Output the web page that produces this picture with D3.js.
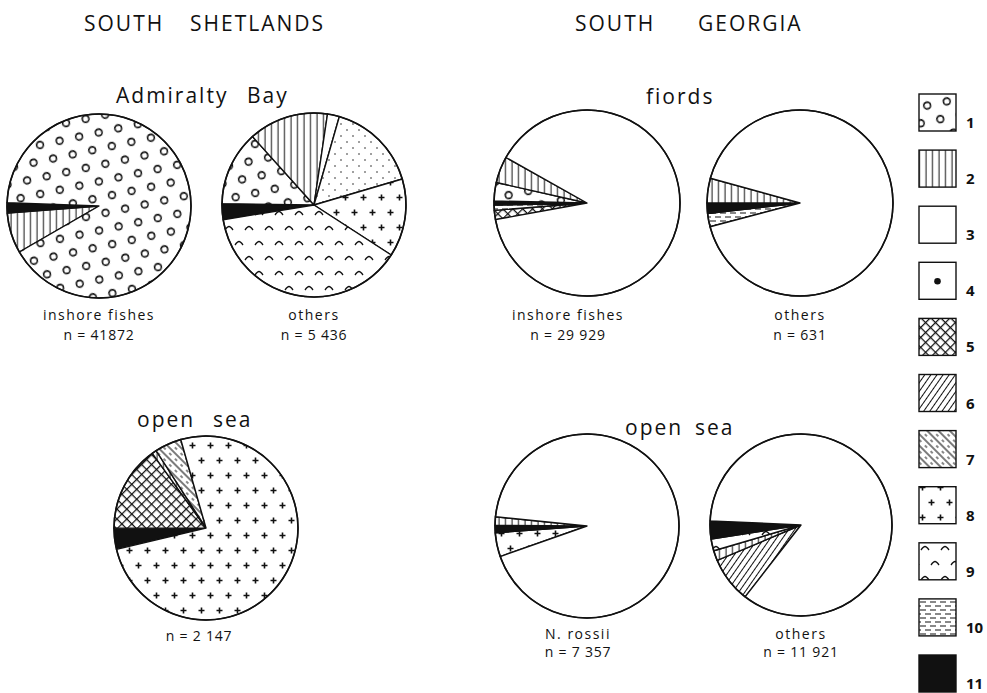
<!DOCTYPE html>
<html>
<head>
<meta charset="utf-8">
<script src="https://cdn.jsdelivr.net/npm/d3@7"></script>
<style>
  html, body { margin: 0; padding: 0; background: #fff; }
  svg { display: block; }
  text { font-family: "Open Sans", "DejaVu Sans", sans-serif; fill: #111; }
</style>
</head>
<body>
<svg id="chart" width="987" height="693"></svg>
<script>
// Food categories 1..11 (legend keys)
const categories = [1, 2, 3, 4, 5, 6, 7, 8, 9, 10, 11];

// Diet composition of each sample, percent, listed clockwise
const admiraltyInshoreCats = [2, 11, 1];
const admiraltyInshoreVals = [7.1, 1.8, 91.1];

const admiraltyOthersCats = [11, 1, 2, 3, 4, 8, 9];
const admiraltyOthersVals = [2.8, 13.1, 14.0, 2.1, 16.0, 13.7, 38.3];

const fiordsInshoreCats = [5, 10, 11, 1, 2, 3];
const fiordsInshoreVals = [1.6, 0.9, 0.7, 3.2, 4.6, 89.0];

const fiordsOthersCats = [10, 11, 2, 3];
const fiordsOthersVals = [2.3, 1.8, 4.3, 91.6];

const shetlandOpenCats = [11, 5, 2, 7, 8];
const shetlandOpenVals = [3.7, 15.1, 0.8, 4.7, 75.7];

const rossiiCats = [8, 11, 2, 3];
const rossiiVals = [4.2, 1.3, 1.5, 93.0];

const georgiaOpenOthersCats = [6, 2, 9, 11, 3];
const georgiaOpenOthersVals = [8.1, 1.8, 2.1, 3.2, 84.8];

// Captions under each pie
const captionTop = ["inshore fishes", "others", "inshore fishes", "others", "", "N. rossii", "others"];
const captionN = ["n = 41872", "n = 5 436", "n = 29 929", "n = 631", "n = 2 147", "n = 7 357", "n = 11 921"];

const samples = [
  { cats: admiraltyInshoreCats, vals: admiraltyInshoreVals },
  { cats: admiraltyOthersCats, vals: admiraltyOthersVals },
  { cats: fiordsInshoreCats, vals: fiordsInshoreVals },
  { cats: fiordsOthersCats, vals: fiordsOthersVals },
  { cats: shetlandOpenCats, vals: shetlandOpenVals },
  { cats: rossiiCats, vals: rossiiVals },
  { cats: georgiaOpenOthersCats, vals: georgiaOpenOthersVals }
];

// Layout: centre, radius, start angle (degrees, clockwise from 12 o'clock), caption x and baselines
const layout = [
  { cx: 99,  cy: 206, r: 92, start: 240,   capX: 99,  capY: [320, 340] },
  { cx: 314, cy: 205, r: 92, start: 260.8, capX: 314, capY: [320, 340] },
  { cx: 587, cy: 203, r: 93, start: 259.7, capX: 568, capY: [320, 340] },
  { cx: 800, cy: 203, r: 93, start: 255.2, capX: 800, capY: [320, 340] },
  { cx: 206, cy: 528, r: 92, start: 256.6, capX: 199, capY: [0, 641] },
  { cx: 587, cy: 526, r: 92, start: 250.6, capX: 578, capY: [639, 657] },
  { cx: 801, cy: 525, r: 91, start: 217.9, capX: 801, capY: [639, 657] }
];

const svg = d3.select("#chart");
const defs = svg.append("defs");
const ink = "#111";

// ---- fill patterns ----
function pat(id, w, h, transform) {
  const p = defs.append("pattern").attr("id", id)
    .attr("patternUnits", "userSpaceOnUse").attr("width", w).attr("height", h);
  if (transform) p.attr("patternTransform", transform);
  p.append("rect").attr("width", w).attr("height", h).attr("fill", "#fff");
  return p;
}
// 1: open circles
{
  const p = pat("p1", 20, 32, "rotate(-12)");
  [[5, 8], [15, 24]].forEach(([x, y]) =>
    p.append("circle").attr("cx", x).attr("cy", y).attr("r", 3.4)
      .attr("fill", "none").attr("stroke", ink).attr("stroke-width", 1.6));
}
// 2: vertical lines
{
  const p = pat("p2", 6.5, 10);
  p.append("line").attr("x1", 3).attr("x2", 3).attr("y1", 0).attr("y2", 10)
    .attr("stroke", ink).attr("stroke-width", 1);
}
// 3: blank
pat("p3", 10, 10);
// 4: fine dots
{
  const p = pat("p4", 12, 12);
  [[3, 3], [9, 9]].forEach(([x, y]) =>
    p.append("circle").attr("cx", x).attr("cy", y).attr("r", 0.75).attr("fill", ink));
}
// 5: cross-hatch
{
  const p = pat("p5", 7, 7, "rotate(45)");
  p.append("line").attr("x1", 0).attr("x2", 7).attr("y1", 0.5).attr("y2", 0.5)
    .attr("stroke", ink).attr("stroke-width", 1.5);
  p.append("line").attr("x1", 0.5).attr("x2", 0.5).attr("y1", 0).attr("y2", 7)
    .attr("stroke", ink).attr("stroke-width", 1.5);
}
// 6: forward diagonal hatch
{
  const p = pat("p6", 5, 10, "rotate(35)");
  p.append("line").attr("x1", 2.5).attr("x2", 2.5).attr("y1", 0).attr("y2", 10)
    .attr("stroke", ink).attr("stroke-width", 1);
}
// 7: back diagonal lines with dashes between
{
  const p = pat("p7", 8, 8, "rotate(45)");
  p.append("line").attr("x1", 0).attr("x2", 8).attr("y1", 1).attr("y2", 1)
    .attr("stroke", ink).attr("stroke-width", 1.1);
  p.append("line").attr("x1", 1).attr("x2", 4).attr("y1", 5).attr("y2", 5)
    .attr("stroke", ink).attr("stroke-width", 1);
}
// 8: plus signs
{
  const p = pat("p8", 18, 30);
  [[4.5, 7.5], [13.5, 22.5]].forEach(([x, y]) => {
    p.append("path").attr("d", `M${x - 3},${y}H${x + 3}M${x},${y - 3}V${y + 3}`)
      .attr("stroke", ink).attr("stroke-width", 1.6).attr("fill", "none");
  });
}
// 9: small peaked arcs
{
  const p = pat("p9", 20, 30);
  [[5, 8], [15, 23]].forEach(([x, y]) => {
    p.append("path").attr("d", `M${x - 4},${y + 2}Q${x - 1.5},${y - 1.5} ${x},${y - 1.5}Q${x + 1.5},${y - 1.5} ${x + 4},${y + 2}`)
      .attr("stroke", ink).attr("stroke-width", 1.3).attr("fill", "none");
  });
}
// 10: horizontal dashes
{
  const p = pat("p10", 10, 8);
  p.append("line").attr("x1", 0).attr("x2", 6).attr("y1", 2).attr("y2", 2)
    .attr("stroke", ink).attr("stroke-width", 1);
  p.append("line").attr("x1", 5).attr("x2", 11).attr("y1", 6).attr("y2", 6)
    .attr("stroke", ink).attr("stroke-width", 1);
  p.append("line").attr("x1", -5).attr("x2", 1).attr("y1", 6).attr("y2", 6)
    .attr("stroke", ink).attr("stroke-width", 1);
}

const fillFor = c => c === 11 ? ink : `url(#p${c})`;

// ---- pies ----
const toRad = d => d * Math.PI / 180;

samples.forEach((s, i) => {
  const L = layout[i];
  const pie = d3.pie().sort(null).value(d => d.v)
    .startAngle(toRad(L.start)).endAngle(toRad(L.start) + 2 * Math.PI);
  const arc = d3.arc().innerRadius(0).outerRadius(L.r);
  const data = s.cats.map((c, k) => ({ c, v: s.vals[k] }));
  const g = svg.append("g").attr("transform", `translate(${L.cx},${L.cy})`);
  g.selectAll("path.slice").data(pie(data)).join("path")
    .attr("class", "slice")
    .attr("d", arc)
    .attr("fill", d => fillFor(d.data.c))
    .attr("stroke", ink)
    .attr("stroke-width", 1.4)
    .attr("stroke-linejoin", "round");
  g.append("circle").attr("r", L.r).attr("fill", "none")
    .attr("stroke", ink).attr("stroke-width", 1.6);

  if (captionTop[i]) {
    svg.append("text").attr("x", L.capX).attr("y", L.capY[0])
      .attr("text-anchor", "middle").attr("font-size", 14)
      .attr("letter-spacing", 1.5).text(captionTop[i]);
  }
  svg.append("text").attr("x", L.capX).attr("y", L.capY[1])
    .attr("text-anchor", "middle").attr("font-size", 14)
    .attr("letter-spacing", 0.8).text(captionN[i]);
});

// ---- headings ----
const headings = [
  { t: "SOUTH", x: 84, y: 31, s: 21 },
  { t: "SHETLANDS", x: 190, y: 31, s: 21 },
  { t: "SOUTH", x: 575, y: 31, s: 21 },
  { t: "GEORGIA", x: 698, y: 31, s: 21 },
  { t: "Admiralty", x: 116, y: 103, s: 21 },
  { t: "Bay", x: 247, y: 103, s: 21 },
  { t: "fiords", x: 646, y: 104, s: 21 },
  { t: "open", x: 137, y: 427, s: 21 },
  { t: "sea", x: 213, y: 427, s: 21 },
  { t: "open", x: 625, y: 435, s: 21 },
  { t: "sea", x: 695, y: 435, s: 21 }
];
svg.selectAll("text.head").data(headings).join("text")
  .attr("class", "head")
  .attr("x", d => d.x).attr("y", d => d.y)
  .attr("font-size", d => d.s)
  .attr("letter-spacing", 2)
  .text(d => d.t);

// ---- legend ----
const legendY = d3.scaleLinear().domain([1, 11]).range([94, 655]);
const lg = svg.append("g");
categories.forEach(c => {
  const y = legendY(c);
  lg.append("rect").attr("x", 919).attr("y", y).attr("width", 37).attr("height", 37)
    .attr("fill", c === 4 ? "#fff" : fillFor(c))
    .attr("stroke", ink).attr("stroke-width", 1.4);
  if (c === 4) {
    lg.append("circle").attr("cx", 937.5).attr("cy", y + 19).attr("r", 3.3).attr("fill", ink);
  }
  lg.append("text").attr("x", 966).attr("y", y + 34)
    .attr("font-family", "'Liberation Sans', Arial, sans-serif")
    .attr("font-weight", "bold").attr("font-size", 15)
    .text(c);
});
</script>
</body>
</html>
